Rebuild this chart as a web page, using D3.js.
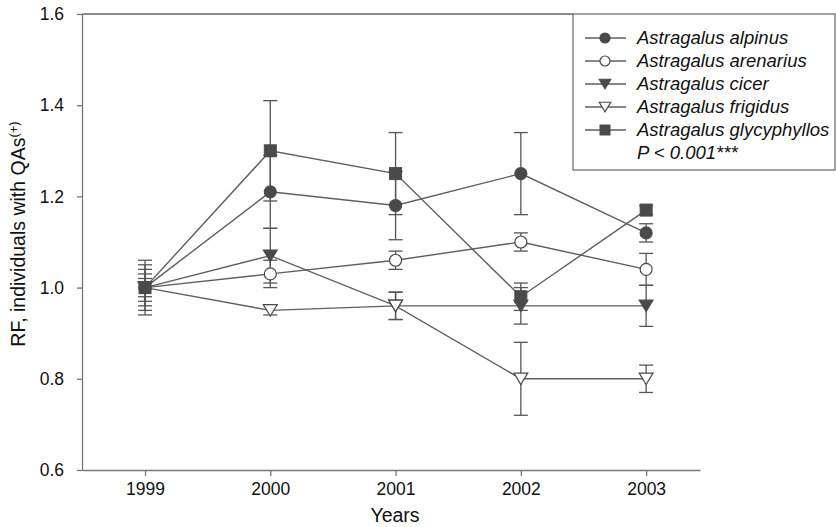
<!DOCTYPE html>
<html><head><meta charset="utf-8">
<script src="https://cdn.jsdelivr.net/npm/d3@7"></script>
<style>
body{margin:0;background:#fff;}
text{font-family:"Liberation Sans",Arial,sans-serif;}
</style></head>
<body>
<svg id="c" width="836" height="527"></svg>
<script>
const years = [1999, 2000, 2001, 2002, 2003];
const yTicks = [0.6, 0.8, 1.0, 1.2, 1.4, 1.6];
const seriesNames = ["Astragalus alpinus", "Astragalus arenarius", "Astragalus cicer", "Astragalus frigidus", "Astragalus glycyphyllos"];
const alpinus      = [1.00, 1.21, 1.18, 1.25, 1.12];
const arenarius    = [1.00, 1.03, 1.06, 1.10, 1.04];
const cicer        = [1.00, 1.07, 0.96, 0.96, 0.96];
const frigidus     = [1.00, 0.95, 0.96, 0.80, 0.80];
const glycyphyllos = [1.00, 1.30, 1.25, 0.98, 1.17];
const seAlpinus      = [0.06, 0.08, 0.075, 0.09, 0.02];
const seArenarius    = [0.03, 0.03, 0.02, 0.02, 0.035];
const seCicer        = [0.05, 0.06, 0.03, 0.04, 0.045];
const seFrigidus     = [0.04, 0.01, 0.03, 0.08, 0.03];
const seGlycyphyllos = [0.02, 0.11, 0.09, 0.03, 0.01];
const markers = ["circleFilled", "circleOpen", "triFilled", "triOpen", "squareFilled"];
const values = [alpinus, arenarius, cicer, frigidus, glycyphyllos];
const errs = [seAlpinus, seArenarius, seCicer, seFrigidus, seGlycyphyllos];

const svg = d3.select("#c");
const x = d3.scaleLinear().domain([1998.497, 2003.43]).range([82, 700]);
const y = d3.scaleLinear().domain([0.6, 1.6]).range([470, 14]);
const lineCol = "#5e5e5e", markCol = "#4a4a4a";

// axes
const gx = svg.append("g").attr("transform", "translate(0,470)")
  .call(d3.axisBottom(x).tickValues(years).tickFormat(d3.format("d")).tickSize(6).tickPadding(7).tickSizeOuter(0));
const gy = svg.append("g").attr("transform", "translate(82,0)")
  .call(d3.axisLeft(y).tickValues(yTicks).tickFormat(d3.format(".1f")).tickSize(5).tickPadding(13).tickSizeOuter(0));
[gx, gy].forEach(g => {
  g.selectAll("path,line").attr("stroke", "#777").attr("stroke-width", 1.3);
  g.selectAll("text").attr("fill", "#111").style("font-size", "17.5px");
});
// top frame line
svg.append("line").attr("x1", 82).attr("x2", 573).attr("y1", 14).attr("y2", 14)
  .attr("stroke", "#666").attr("stroke-width", 1.3);

// axis titles
svg.append("text").attr("x", 395).attr("y", 522).attr("text-anchor", "middle")
  .style("font-size", "19.5px").attr("fill", "#111").text("Years");
const yl = svg.append("text").attr("transform", "translate(25,234) rotate(-90)")
  .attr("text-anchor", "middle").style("font-size", "19.5px").attr("fill", "#111");
yl.append("tspan").text("RF, individuals with QAs");
yl.append("tspan").attr("dy", "-7").style("font-size", "13px").text("(+)");

function drawMarker(g, type, cx, cy, s) {
  if (type.startsWith("circle")) {
    g.append("circle").attr("cx", cx).attr("cy", cy).attr("r", s)
      .attr("fill", type === "circleFilled" ? markCol : "#fff").attr("stroke", markCol).attr("stroke-width", 1.2);
  } else if (type.startsWith("tri")) {
    const h = s * 1.9, w = s * 1.15;
    g.append("path").attr("d", `M${cx - w},${cy - h / 2}L${cx + w},${cy - h / 2}L${cx},${cy + h / 2}Z`)
      .attr("fill", type === "triFilled" ? markCol : "#fff").attr("stroke", markCol).attr("stroke-width", 1.2);
  } else {
    g.append("rect").attr("x", cx - s).attr("y", cy - s).attr("width", 2 * s).attr("height", 2 * s)
      .attr("fill", markCol).attr("stroke", markCol).attr("stroke-width", 1);
  }
}

const plot = svg.append("g");
// error bars
values.forEach((vals, i) => {
  vals.forEach((v, j) => {
    const e = errs[i][j], cx = x(years[j]);
    const g = plot.append("g").attr("stroke", "#555").attr("stroke-width", 1.3);
    g.append("line").attr("x1", cx).attr("x2", cx).attr("y1", y(v - e)).attr("y2", y(v + e));
    [v - e, v + e].forEach(t => g.append("line").attr("x1", cx - 7).attr("x2", cx + 7).attr("y1", y(t)).attr("y2", y(t)));
  });
});
// lines
const line = d3.line().x((d, j) => x(years[j])).y(d => y(d));
values.forEach(vals => {
  plot.append("path").datum(vals).attr("d", line).attr("fill", "none")
    .attr("stroke", lineCol).attr("stroke-width", 1.4);
});
// markers
values.forEach((vals, i) => {
  vals.forEach((v, j) => drawMarker(plot, markers[i], x(years[j]), y(v), 6));
});

// legend
const lg = svg.append("g");
lg.append("rect").attr("x", 573).attr("y", 14).attr("width", 262).attr("height", 156)
  .attr("fill", "#fff").attr("stroke", "#666").attr("stroke-width", 1.2);
seriesNames.forEach((n, i) => {
  const ly = 38 + i * 23;
  lg.append("line").attr("x1", 585).attr("x2", 626).attr("y1", ly).attr("y2", ly)
    .attr("stroke", lineCol).attr("stroke-width", 1.4);
  drawMarker(lg, markers[i], 605, ly, 5);
  lg.append("text").attr("x", 637).attr("y", ly + 6).style("font-size", "18.5px")
    .style("font-style", "italic").attr("fill", "#111").text(n);
});
lg.append("text").attr("x", 637).attr("y", 38 + 5 * 23 + 6).style("font-size", "18.5px")
  .style("font-style", "italic").attr("fill", "#111").text("P < 0.001***");
</script>
</body></html>
